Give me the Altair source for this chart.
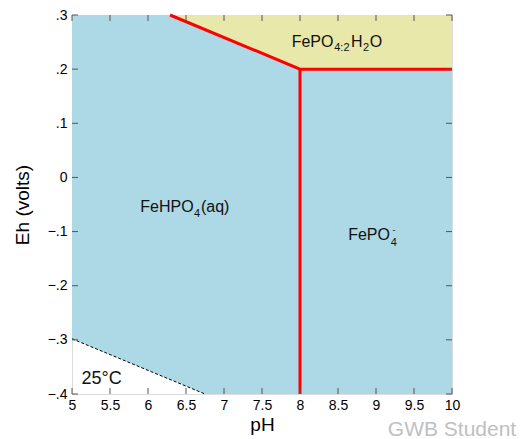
import altair as alt
import pandas as pd

# ---- data ----
blue_ph = [5, 6.29, 6.75, 8, 10]
blue_top = [0.3, 0.3, 0.273, 0.2, 0.2]
blue_bot = [-0.298, -0.373, -0.4, -0.4, -0.4]

yel_ph = [6.29, 8, 10]
yel_top = [0.3, 0.3, 0.3]
yel_bot = [0.3, 0.2, 0.2]

bound_ph = [6.29, 8, 10, 8, 8]
bound_eh = [0.3, 0.2, 0.2, 0.2, -0.4]
bound_seg = ["a", "a", "a", "b", "b"]
bound_ord = [0, 1, 2, 0, 1]

water_ph = [5, 6.75]
water_eh = [-0.298, -0.4]

x_ticks = [5, 5.5, 6, 6.5, 7, 7.5, 8, 8.5, 9, 9.5, 10]
y_ticks = [-0.4, -0.3, -0.2, -0.1, 0, 0.1, 0.2, 0.3]

XMIN, XMAX = 5, 10
YMIN, YMAX = -0.4, 0.3

# field labels: anchor = end of the main formula part (pH, Eh of baseline)
fehpo_ph, fehpo_eh = 6.60, -0.0644
fepo_ph, fepo_eh = 9.184, -0.1156
fepoh_ph, fepoh_eh = 8.44, 0.2403
temp_ph, temp_eh = 5.39, -0.372
wm_ph, wm_eh = 10, -0.4

FONT = "Liberation Sans"
FRAME = "#555555"
TXT = "#111111"

xs = alt.Scale(domain=[XMIN, XMAX], nice=False, zero=False)
ys = alt.Scale(domain=[YMIN, YMAX], nice=False, zero=False)

xax = alt.Axis(
    values=x_ticks, format="~g", tickSize=0, domain=False, grid=False,
    labelFontSize=14, labelPadding=4, labelFlush=False, labelOverlap=False,
    labelColor="black", title="pH", titleFontSize=19, titleFontWeight="normal",
    titlePadding=3, titleColor="black")
yax = alt.Axis(
    values=y_ticks, tickSize=0, domain=False, grid=False,
    labelExpr="datum.value == 0 ? '0' : replace(format(datum.value, '.1f'), '0.', '.')",
    labelFontSize=14, labelPadding=5, labelFlush=False, labelOverlap=False,
    labelColor="black", title="Eh (volts)", titleFontSize=19, titleFontWeight="normal",
    titlePadding=15, titleColor="black")


def X(f="pH"):
    return alt.X(f"{f}:Q", scale=xs, axis=xax, title="pH")


def Y(f="Eh"):
    return alt.Y(f"{f}:Q", scale=ys, axis=yax, title="Eh (volts)")


blue_df = pd.DataFrame({"pH": blue_ph, "Eh": blue_top, "Eh2": blue_bot})
yel_df = pd.DataFrame({"pH": yel_ph, "Eh": yel_top, "Eh2": yel_bot})
bound_df = pd.DataFrame({"pH": bound_ph, "Eh": bound_eh, "seg": bound_seg, "o": bound_ord})
water_df = pd.DataFrame({"pH": water_ph, "Eh": water_eh})
xt_bot = pd.DataFrame({"pH": x_ticks, "Eh": [YMIN] * len(x_ticks)})
xt_top = pd.DataFrame({"pH": x_ticks, "Eh": [YMAX] * len(x_ticks)})
yt_left = pd.DataFrame({"Eh": y_ticks, "pH": [XMIN] * len(y_ticks)})
yt_right = pd.DataFrame({"Eh": y_ticks, "pH": [XMAX] * len(y_ticks)})

blue = alt.Chart(blue_df).mark_area(color="#ADD8E6", opacity=1).encode(
    x=X(), y=Y(), y2="Eh2:Q")
yel = alt.Chart(yel_df).mark_area(color="#E8E8AA", opacity=1).encode(
    x=X(), y=Y(), y2="Eh2:Q")
bound = alt.Chart(bound_df).mark_line(color="#FF0000", strokeWidth=3).encode(
    x=X(), y=Y(), detail="seg:N", order="o:Q")
water = alt.Chart(water_df).mark_line(color="black", strokeWidth=1, strokeDash=[3, 2]).encode(
    x=X(), y=Y())

ts = dict(color=FRAME, strokeWidth=1)
tb = alt.Chart(xt_bot).mark_rule(y2Offset=-6, **ts).encode(x=X(), y=Y(), y2="Eh:Q")
tt = alt.Chart(xt_top).mark_rule(y2Offset=6, **ts).encode(x=X(), y=Y(), y2="Eh:Q")
tl = alt.Chart(yt_left).mark_rule(x2Offset=6, **ts).encode(x=X(), y=Y(), x2="pH:Q")
tr = alt.Chart(yt_right).mark_rule(x2Offset=-6, **ts).encode(x=X(), y=Y(), x2="pH:Q")


def piece(ph, eh, text, size, align, dx=0, dy=0, color=TXT, baseline="alphabetic"):
    df = pd.DataFrame({"pH": [ph], "Eh": [eh], "t": [text]})
    return alt.Chart(df).mark_text(
        font=FONT, fontSize=size, color=color, align=align, baseline=baseline, dx=dx, dy=dy
    ).encode(x=X(), y=Y(), text="t:N")


MAIN, SUB = 16, 11
labels = [
    # FeHPO4(aq)
    piece(fehpo_ph, fehpo_eh, "FeHPO", MAIN, "right"),
    piece(fehpo_ph, fehpo_eh, "4", SUB, "left", dx=0.5, dy=4.3),
    piece(fehpo_ph, fehpo_eh, "(aq)", MAIN, "left", dx=7.3),
    # FePO4-
    piece(fepo_ph, fepo_eh, "FePO", MAIN, "right"),
    piece(fepo_ph, fepo_eh, "4", SUB, "left", dx=0.7, dy=5.7),
    piece(fepo_ph, fepo_eh, "-", 9, "left", dx=2.5, dy=-6.8),
    # FePO4:2H2O
    piece(fepoh_ph, fepoh_eh, "FePO", MAIN, "right"),
    piece(fepoh_ph, fepoh_eh, "4:2", SUB, "left", dx=0.8, dy=4),
    piece(fepoh_ph, fepoh_eh, "H", MAIN, "left", dx=17.6),
    piece(fepoh_ph, fepoh_eh, "2", SUB, "left", dx=29.6, dy=4),
    piece(fepoh_ph, fepoh_eh, "O", MAIN, "left", dx=36.2),
    # temperature
    piece(temp_ph, temp_eh, "25°C", 18, "center", baseline="middle"),
    # watermark
    piece(wm_ph, wm_eh, "GWB Student", 21, "center", dy=36, color="#C0C0C0", baseline="middle"),
]

chart = alt.layer(
    blue, yel, water, bound, tb, tt, tl, tr, *labels
).properties(
    width=380, height=379,
    autosize=alt.AutoSizeParams(type="none"),
    padding={"left": 64, "top": 7, "right": 66, "bottom": 45},
).configure_view(
    stroke=FRAME, strokeWidth=1.5
).configure(font=FONT, background="white")

chart.save("out.html", embed_options={"renderer": "svg", "actions": False})
